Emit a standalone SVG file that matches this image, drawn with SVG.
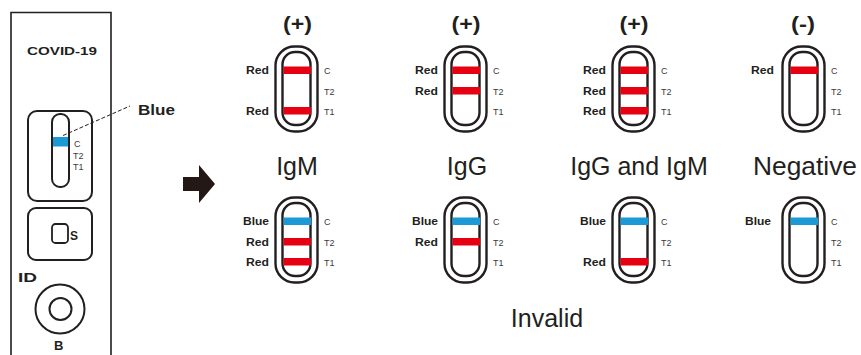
<svg xmlns="http://www.w3.org/2000/svg" xmlns:xlink="http://www.w3.org/1999/xlink" width="861" height="355" viewBox="0 0 861 355">
  <style>
    .ink { fill: none; stroke: #231f20; }
    .b { font-family: "Liberation Sans", Arial, sans-serif; font-weight: bold; fill: #231f20; }
    .lbl { font-size: 11px; text-anchor: end; }
    .pos { font-family: "Liberation Sans", Arial, sans-serif; font-size: 9px; fill: #3e3a39; }
    .big { font-family: "Liberation Sans", Arial, sans-serif; font-size: 25px; fill: #231f20; text-anchor: middle; }
    .sign { font-size: 20px; text-anchor: middle; }
    .red { fill: #e60012; }
    .blue { fill: #1b9ad6; }
  </style>
  <defs>
    <!-- strip housing: outer and inner rounded outlines, local origin at outer top-left -->
    <g id="strip">
      <rect class="ink" x="0.5" y="1.5" width="42" height="85" rx="19" stroke-width="2.4"/>
      <rect class="ink" x="7.5" y="7" width="28" height="73" rx="12.5" stroke-width="2.4"/>
      <text class="pos" x="49" y="29">C</text>
      <text class="pos" x="49" y="50">T2</text>
      <text class="pos" x="49" y="70">T1</text>
    </g>
    <rect id="bandC" x="8.5" y="21.5" width="27.5" height="7.5"/>
    <rect id="bandT2" x="8.5" y="42" width="27.5" height="7.5"/>
    <rect id="bandT1" x="8.5" y="62" width="27.5" height="7.5"/>
  </defs>

  <!-- test cassette -->
  <g id="cassette">
    <path class="ink" d="M11 355 V12.5 H111 V355" stroke-width="1.6"/>
    <text class="b" x="27" y="55" font-size="11.5" textLength="70" lengthAdjust="spacingAndGlyphs">COVID-19</text>
    <rect class="ink" x="28" y="111" width="64" height="90" rx="9" stroke-width="2"/>
    <rect class="ink" x="52" y="114" width="17" height="73" rx="8" stroke-width="2"/>
    <rect class="blue" x="53" y="137" width="15" height="9.5"/>
    <text class="pos" x="74" y="147" font-size="8.5">C</text>
    <text class="pos" x="73" y="159" font-size="8.5">T2</text>
    <text class="pos" x="73" y="170" font-size="8.5">T1</text>
    <line x1="63" y1="135.5" x2="130" y2="106" stroke="#231f20" stroke-width="1" stroke-dasharray="4 2"/>
    <text class="b" x="138" y="115" font-size="14" textLength="37" lengthAdjust="spacingAndGlyphs">Blue</text>
    <rect class="ink" x="28" y="208" width="64" height="52" rx="8" stroke-width="2"/>
    <rect class="ink" x="52" y="224" width="16" height="19" rx="3.5" stroke-width="1.8"/>
    <text class="b" x="70" y="240" font-size="12">S</text>
    <text class="b" x="18" y="282" font-size="13" textLength="19" lengthAdjust="spacingAndGlyphs">ID</text>
    <circle class="ink" cx="60" cy="309" r="24.5" stroke-width="2"/>
    <circle class="ink" cx="60.5" cy="309" r="11" stroke-width="2"/>
    <text class="b" x="54" y="350" font-size="13">B</text>
  </g>

  <!-- result arrow -->
  <g id="arrow">
    <polygon points="183,177 199,177 199,165 215,184 199,203 199,191 183,191" fill="#231815"/>
  </g>

  <!-- top row: positive / negative results -->
  <g id="igm">
    <text class="b sign" x="297.5" y="31" textLength="29" lengthAdjust="spacingAndGlyphs">(+)</text>
    <g transform="translate(275,45)">
      <use xlink:href="#strip"/>
      <use xlink:href="#bandC" class="red"/>
      <use xlink:href="#bandT1" class="red"/>
      <text class="b lbl" x="-6" y="29" textLength="23" lengthAdjust="spacingAndGlyphs">Red</text>
      <text class="b lbl" x="-6" y="70" textLength="23" lengthAdjust="spacingAndGlyphs">Red</text>
    </g>
    <text class="big" x="297" y="175">IgM</text>
  </g>
  <g id="igg">
    <text class="b sign" x="466" y="31" textLength="29" lengthAdjust="spacingAndGlyphs">(+)</text>
    <g transform="translate(444,45)">
      <use xlink:href="#strip"/>
      <use xlink:href="#bandC" class="red"/>
      <use xlink:href="#bandT2" class="red"/>
      <text class="b lbl" x="-6" y="29" textLength="23" lengthAdjust="spacingAndGlyphs">Red</text>
      <text class="b lbl" x="-6" y="50" textLength="23" lengthAdjust="spacingAndGlyphs">Red</text>
    </g>
    <text class="big" x="467" y="175">IgG</text>
  </g>
  <g id="igg-igm">
    <text class="b sign" x="634" y="31" textLength="29" lengthAdjust="spacingAndGlyphs">(+)</text>
    <g transform="translate(612,45)">
      <use xlink:href="#strip"/>
      <use xlink:href="#bandC" class="red"/>
      <use xlink:href="#bandT2" class="red"/>
      <use xlink:href="#bandT1" class="red"/>
      <text class="b lbl" x="-6" y="29" textLength="23" lengthAdjust="spacingAndGlyphs">Red</text>
      <text class="b lbl" x="-6" y="50" textLength="23" lengthAdjust="spacingAndGlyphs">Red</text>
      <text class="b lbl" x="-6" y="70" textLength="23" lengthAdjust="spacingAndGlyphs">Red</text>
    </g>
    <text class="big" x="639" y="175">IgG and IgM</text>
  </g>
  <g id="negative">
    <text class="b sign" x="803" y="31" textLength="24" lengthAdjust="spacingAndGlyphs">(-)</text>
    <g transform="translate(782,45)">
      <use xlink:href="#strip"/>
      <use xlink:href="#bandC" class="red"/>
      <text class="b lbl" x="-8" y="29" textLength="23" lengthAdjust="spacingAndGlyphs">Red</text>
    </g>
    <text class="big" x="805" y="175" textLength="104" lengthAdjust="spacingAndGlyphs">Negative</text>
  </g>

  <!-- bottom row: invalid results -->
  <g id="invalid-1" transform="translate(275,196)">
    <use xlink:href="#strip"/>
    <use xlink:href="#bandC" class="blue"/>
    <use xlink:href="#bandT2" class="red"/>
    <use xlink:href="#bandT1" class="red"/>
    <text class="b lbl" x="-6" y="29" textLength="26" lengthAdjust="spacingAndGlyphs">Blue</text>
    <text class="b lbl" x="-6" y="50" textLength="23" lengthAdjust="spacingAndGlyphs">Red</text>
    <text class="b lbl" x="-6" y="70" textLength="23" lengthAdjust="spacingAndGlyphs">Red</text>
  </g>
  <g id="invalid-2" transform="translate(444,196)">
    <use xlink:href="#strip"/>
    <use xlink:href="#bandC" class="blue"/>
    <use xlink:href="#bandT2" class="red"/>
    <text class="b lbl" x="-6" y="29" textLength="26" lengthAdjust="spacingAndGlyphs">Blue</text>
    <text class="b lbl" x="-6" y="50" textLength="23" lengthAdjust="spacingAndGlyphs">Red</text>
  </g>
  <g id="invalid-3" transform="translate(612,196)">
    <use xlink:href="#strip"/>
    <use xlink:href="#bandC" class="blue"/>
    <use xlink:href="#bandT1" class="red"/>
    <text class="b lbl" x="-6" y="29" textLength="26" lengthAdjust="spacingAndGlyphs">Blue</text>
    <text class="b lbl" x="-6" y="70" textLength="23" lengthAdjust="spacingAndGlyphs">Red</text>
  </g>
  <g id="invalid-4" transform="translate(782,196)">
    <use xlink:href="#strip"/>
    <use xlink:href="#bandC" class="blue"/>
    <text class="b lbl" x="-11" y="29" textLength="26" lengthAdjust="spacingAndGlyphs">Blue</text>
  </g>
  <text class="big" x="547" y="327">Invalid</text>
</svg>
